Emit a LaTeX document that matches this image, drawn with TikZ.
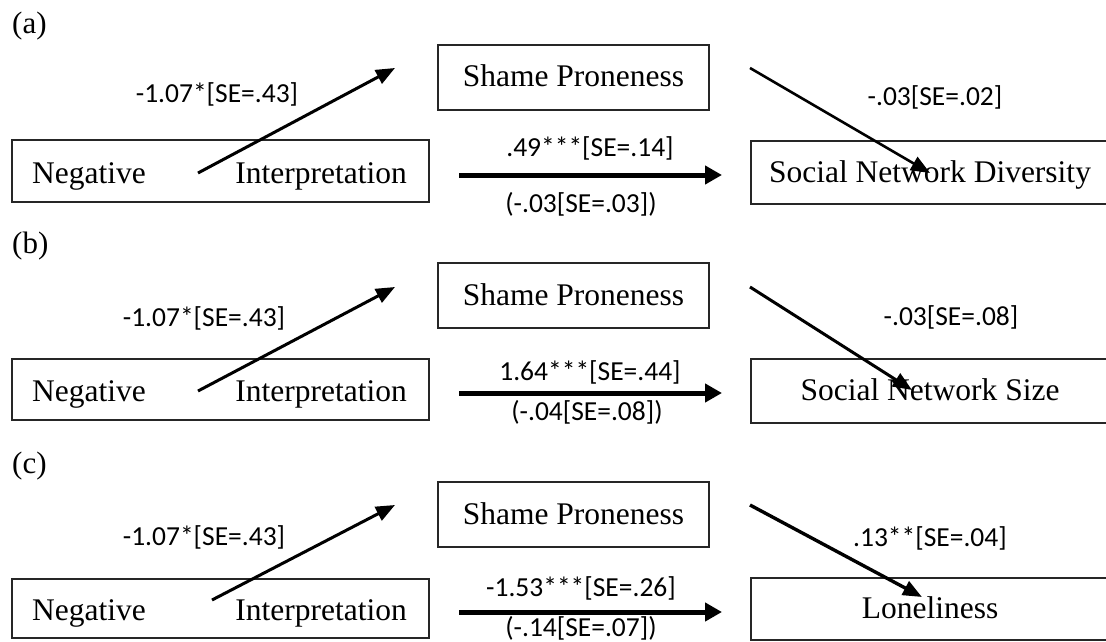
\documentclass[tikz,border=0pt]{standalone}
\usepackage{fontspec}
\setmainfont{Liberation Serif}
\newfontfamily\labelfont{Carlito}
\usetikzlibrary{arrows.meta}
\tikzset{
  boxtext/.style={font=\fontsize{31.5}{36}\selectfont, inner sep=0pt},
  varbox/.style={draw=black!85, line width=1.4pt, inner sep=0pt, font=\fontsize{31.5}{36}\selectfont,
    text height=22pt, text depth=3pt},
  panellabel/.style={font=\fontsize{31}{36}\selectfont, anchor=base west, inner sep=0pt},
  coef/.style={font=\labelfont\fontsize{27.5}{32}\selectfont, inner sep=0pt},
  patharrow/.style={line width=3pt, -{Triangle[length=19pt,width=15pt]}},
  directarrow/.style={line width=5pt, -{Triangle[length=17pt,width=18pt]}}
}
\begin{document}
\begin{tikzpicture}[x=1pt,y=-1pt]
\path[use as bounding box] (0,0) rectangle (1106,642);
\clip (0,0) rectangle (1106,642);

% ---------------- panel (a)
\node[panellabel] (pa) at (12,34) {(a)};
\node[varbox, minimum width=417pt, minimum height=62pt] (xa) at (220.5,171) {};
\node[boxtext, anchor=base west] (xa1) at (32,183) {Negative};
\node[boxtext, anchor=base east] (xa2) at (407,183) {Interpretation};
\node[varbox, minimum width=271pt, minimum height=65pt] (ma) at (573.5,77.5) {Shame Proneness};
\node[varbox, minimum width=358pt, minimum height=63pt] (ya) at (930,172.5) {Social Network Diversity};
\coordinate (a1s) at (198,173); \coordinate (a1e) at (395,68);
\coordinate (a2s) at (750,68);  \coordinate (a2e) at (930,173);
\coordinate (a3s) at (459,175); \coordinate (a3e) at (722,175);
\draw[patharrow] (a1s) -- (a1e);
\draw[patharrow, line width=2.6pt] (a2s) -- (a2e);
\draw[directarrow] (a3s) -- (a3e);
\node[coef] (la1) at (217,94) {-1.07*[SE=.43]};
\node[coef] (la2) at (935,97) {-.03[SE=.02]};
\node[coef] (la3) at (590,148) {.49***[SE=.14]};
\node[coef] (la4) at (581,204) {(-.03[SE=.03])};

% ---------------- panel (b)
\node[panellabel] (pb) at (12,253) {(b)};
\node[varbox, minimum width=417pt, minimum height=61pt] (xb) at (220.5,389.5) {};
\node[boxtext, anchor=base west] (xb1) at (32,401) {Negative};
\node[boxtext, anchor=base east] (xb2) at (407,401) {Interpretation};
\node[varbox, minimum width=271pt, minimum height=65pt] (mb) at (573.5,295.5) {Shame Proneness};
\node[varbox, minimum width=358pt, minimum height=64pt] (yb) at (930,391) {Social Network Size};
\coordinate (b1s) at (198,391); \coordinate (b1e) at (395,287);
\coordinate (b2s) at (750,287); \coordinate (b2e) at (912,390);
\coordinate (b3s) at (459,393); \coordinate (b3e) at (722,393);
\draw[patharrow] (b1s) -- (b1e);
\draw[patharrow] (b2s) -- (b2e);
\draw[directarrow] (b3s) -- (b3e);
\node[coef] (lb1) at (204,318) {-1.07*[SE=.43]};
\node[coef] (lb2) at (951,317) {-.03[SE=.08]};
\node[coef] (lb3) at (590,372) {1.64***[SE=.44]};
\node[coef] (lb4) at (587,412) {(-.04[SE=.08])};

% ---------------- panel (c)
\node[panellabel] (pc) at (12,473) {(c)};
\node[varbox, minimum width=417pt, minimum height=59pt] (xc) at (220.5,608.5) {};
\node[boxtext, anchor=base west] (xc1) at (32,620) {Negative};
\node[boxtext, anchor=base east] (xc2) at (407,620) {Interpretation};
\node[varbox, minimum width=271pt, minimum height=65pt] (mc) at (573.5,514.5) {Shame Proneness};
\node[varbox, minimum width=358pt, minimum height=62pt] (yc) at (930,609) {Loneliness};
\coordinate (c1s) at (212,600); \coordinate (c1e) at (395,505);
\coordinate (c2s) at (750,505); \coordinate (c2e) at (922,597);
\coordinate (c3s) at (459,612); \coordinate (c3e) at (722,612);
\draw[patharrow] (c1s) -- (c1e);
\draw[patharrow, line width=3.4pt] (c2s) -- (c2e);
\draw[directarrow] (c3s) -- (c3e);
\node[coef] (lc1) at (204,537) {-1.07*[SE=.43]};
\node[coef] (lc2) at (930,538) {.13**[SE=.04]};
\node[coef] (lc3) at (581,588) {-1.53***[SE=.26]};
\node[coef] (lc4) at (581,628) {(-.14[SE=.07])};
\end{tikzpicture}
\end{document}
